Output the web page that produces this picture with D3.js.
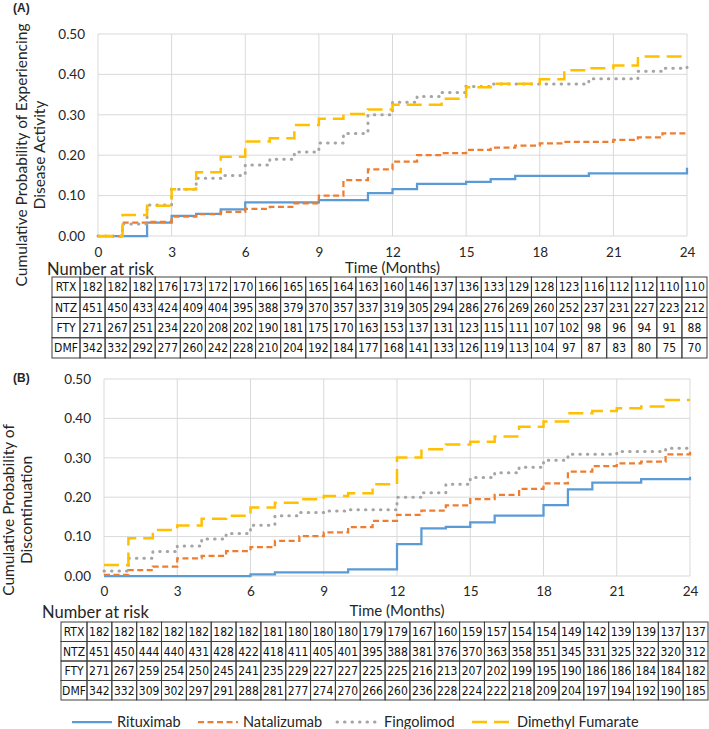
<!DOCTYPE html>
<html>
<head>
<meta charset="utf-8">
<script src="https://cdn.jsdelivr.net/npm/d3@7"></script>
<style>
  body { margin: 0; background: #fff; }
  text { font-family: Lato, "Open Sans", sans-serif; fill: #262626; }
  .tbl text { font-family: "Liberation Sans Narrow", "DejaVu Sans Condensed", sans-serif; font-size: 12px; fill: #111; }
</style>
</head>
<body>
<svg id="chart" width="709" height="729"></svg>
<script>
// months on the x axis, one at-risk column each
const months = [0, 1, 2, 3, 4, 5, 6, 7, 8, 9, 10, 11, 12, 13, 14, 15, 16, 17, 18, 19, 20, 21, 22, 23, 24];
const xTicks = [0, 3, 6, 9, 12, 15, 18, 21, 24];
const yTicks = [0, 0.1, 0.2, 0.3, 0.4, 0.5];
const drugs = ["Rituximab", "Natalizumab", "Fingolimod", "Dimethyl Fumarate"];
const codes = ["RTX", "NTZ", "FTY", "DMF"];

// (A) cumulative probability of disease activity, value from month m onward
const activityRTX = [0, 0, 0.033, 0.050, 0.055, 0.066, 0.083, 0.083, 0.083, 0.089, 0.089, 0.106, 0.116, 0.129, 0.129, 0.134, 0.141, 0.149, 0.149, 0.149, 0.155, 0.155, 0.155, 0.155, 0.169];
const activityNTZ = [0, 0.033, 0.035, 0.048, 0.054, 0.060, 0.067, 0.072, 0.081, 0.100, 0.138, 0.165, 0.184, 0.200, 0.205, 0.213, 0.219, 0.224, 0.229, 0.233, 0.233, 0.238, 0.244, 0.254, 0.256];
const activityFTY = [0, 0.030, 0.077, 0.116, 0.143, 0.150, 0.176, 0.190, 0.208, 0.230, 0.254, 0.300, 0.331, 0.345, 0.355, 0.370, 0.376, 0.376, 0.376, 0.376, 0.389, 0.389, 0.408, 0.415, 0.418];
const activityDMF = [0, 0.052, 0.075, 0.116, 0.158, 0.196, 0.234, 0.242, 0.275, 0.290, 0.302, 0.313, 0.325, 0.325, 0.340, 0.368, 0.377, 0.377, 0.388, 0.410, 0.415, 0.422, 0.444, 0.444, 0.444];

// (B) cumulative probability of discontinuation
const discontRTX = [0, 0, 0, 0, 0, 0, 0.004, 0.009, 0.009, 0.009, 0.017, 0.017, 0.081, 0.121, 0.125, 0.136, 0.153, 0.153, 0.180, 0.220, 0.237, 0.237, 0.246, 0.246, 0.252];
const discontNTZ = [0.003, 0.015, 0.024, 0.045, 0.051, 0.063, 0.073, 0.089, 0.101, 0.111, 0.124, 0.140, 0.155, 0.166, 0.179, 0.195, 0.206, 0.221, 0.235, 0.265, 0.279, 0.286, 0.290, 0.309, 0.318];
const discontFTY = [0.013, 0.045, 0.062, 0.076, 0.094, 0.108, 0.129, 0.153, 0.161, 0.165, 0.168, 0.168, 0.200, 0.211, 0.233, 0.250, 0.262, 0.276, 0.294, 0.309, 0.309, 0.316, 0.316, 0.324, 0.330];
const discontDMF = [0.028, 0.096, 0.117, 0.128, 0.145, 0.153, 0.174, 0.186, 0.195, 0.203, 0.210, 0.233, 0.301, 0.322, 0.334, 0.341, 0.354, 0.379, 0.392, 0.413, 0.419, 0.426, 0.430, 0.447, 0.447];

// number at risk tables
const riskA_RTX = [182, 182, 182, 176, 173, 172, 170, 166, 165, 165, 164, 163, 160, 146, 137, 136, 133, 129, 128, 123, 116, 112, 112, 110, 110];
const riskA_NTZ = [451, 450, 433, 424, 409, 404, 395, 388, 379, 370, 357, 337, 319, 305, 294, 286, 276, 269, 260, 252, 237, 231, 227, 223, 212];
const riskA_FTY = [271, 267, 251, 234, 220, 208, 202, 190, 181, 175, 170, 163, 153, 137, 131, 123, 115, 111, 107, 102, 98, 96, 94, 91, 88];
const riskA_DMF = [342, 332, 292, 277, 260, 242, 228, 210, 204, 192, 184, 177, 168, 141, 133, 126, 119, 113, 104, 97, 87, 83, 80, 75, 70];
const riskB_RTX = [182, 182, 182, 182, 182, 182, 182, 181, 180, 180, 180, 179, 179, 167, 160, 159, 157, 154, 154, 149, 142, 139, 139, 137, 137];
const riskB_NTZ = [451, 450, 444, 440, 431, 428, 422, 418, 411, 405, 401, 395, 388, 381, 376, 370, 363, 358, 351, 345, 331, 325, 322, 320, 312];
const riskB_FTY = [271, 267, 259, 254, 250, 245, 241, 235, 229, 227, 227, 225, 225, 216, 213, 207, 202, 199, 195, 190, 186, 186, 184, 184, 182];
const riskB_DMF = [342, 332, 309, 302, 297, 291, 288, 281, 277, 274, 270, 266, 260, 236, 228, 224, 222, 218, 209, 204, 197, 194, 192, 190, 185];

// line styles per drug
const colors = ["#5b9bd5", "#ed7d31", "#a5a5a5", "#ffc000"];
const dashes = [null, "6,3.5", "0.5,7", "15,7"];
const widths = [2.25, 2.25, 3, 2.5];

const svg = d3.select("#chart");

function drawPanel(p) {
  const x = d3.scaleLinear().domain([0, 24]).range([p.left, p.right]);
  const y = d3.scaleLinear().domain([0, 0.5]).range([p.bottom, p.top]);
  const g = svg.append("g");

  // grid
  g.append("g").selectAll("line").data(yTicks).join("line")
    .attr("x1", p.left).attr("x2", p.right)
    .attr("y1", d => y(d)).attr("y2", d => y(d))
    .attr("stroke", "#d9d9d9");
  g.append("g").selectAll("line").data(xTicks).join("line")
    .attr("x1", d => x(d)).attr("x2", d => x(d))
    .attr("y1", p.top).attr("y2", p.bottom)
    .attr("stroke", "#d9d9d9");

  // axes
  g.append("g")
    .attr("transform", "translate(" + p.left + ",0)")
    .call(d3.axisLeft(y).tickValues(yTicks).tickFormat(d3.format(".2f")).tickSize(0).tickPadding(13))
    .call(a => a.select(".domain").remove())
    .selectAll("text").style("font-size", "13.5px").attr("fill", "#262626");
  g.append("g")
    .attr("transform", "translate(0," + p.bottom + ")")
    .call(d3.axisBottom(x).tickValues(xTicks).tickSize(0).tickPadding(p.xPad))
    .call(a => a.select(".domain").remove())
    .selectAll("text").style("font-size", "13.5px").attr("fill", "#262626");

  // step curves
  const line = d3.line()
    .x((d, i) => x(months[i]))
    .y(d => y(d))
    .curve(d3.curveStepAfter);
  g.append("g").selectAll("path").data(p.series).join("path")
    .attr("d", line)
    .attr("fill", "none")
    .attr("stroke", (d, i) => colors[i])
    .attr("stroke-width", (d, i) => widths[i])
    .attr("stroke-dasharray", (d, i) => dashes[i])
    .attr("stroke-linecap", (d, i) => i === 2 ? "round" : "butt");

  // y title, two lines
  const yt = g.append("text")
    .attr("transform", "translate(" + p.yTitleX + "," + p.yTitleY + ") rotate(-90)")
    .attr("text-anchor", "middle")
    .style("font-size", "15.5px");
  p.yTitle.forEach((t, i) => yt.append("tspan").attr("x", 0).attr("y", i * 18).text(t));

  g.append("text")
    .attr("x", x(12)).attr("y", p.riskY).attr("dy", "0.35em")
    .attr("text-anchor", "middle").style("font-size", "15px")
    .text("Time (Months)");
  g.append("text")
    .attr("x", p.riskX).attr("y", p.riskY + 1).attr("dy", "0.35em")
    .style("font-size", "16.5px")
    .text("Number at risk");

  g.append("text")
    .attr("x", 13).attr("y", p.tagY).attr("dy", "0.35em")
    .style("font-family", "'Liberation Sans', Arial, sans-serif")
    .style("font-weight", "bold").style("font-size", "12px")
    .text(p.tag);

  // number at risk table
  const col = d3.scaleBand().domain(months).range([p.tblLabelRight, p.tblRight]);
  const row = d3.scaleBand().domain(codes).range([p.tblTop, p.tblBottom]);
  const tbl = g.append("g").attr("class", "tbl");
  const rows = tbl.selectAll("g").data(p.risk).join("g")
    .attr("transform", (d, i) => "translate(0," + row(codes[i]) + ")");
  rows.append("rect")
    .attr("x", p.tblLeft).attr("width", p.tblLabelRight - p.tblLeft)
    .attr("height", row.bandwidth())
    .attr("fill", "none").attr("stroke", "#404040");
  rows.append("text")
    .attr("x", (p.tblLeft + p.tblLabelRight) / 2).attr("y", row.bandwidth() / 2).attr("dy", "0.36em")
    .attr("text-anchor", "middle")
    .text((d, i) => codes[i]);
  rows.selectAll("rect.c").data(d => d).join("rect").attr("class", "c")
    .attr("x", (d, i) => col(months[i])).attr("width", col.bandwidth())
    .attr("height", row.bandwidth())
    .attr("fill", "none").attr("stroke", "#404040");
  rows.selectAll("text.c").data(d => d).join("text").attr("class", "c")
    .attr("x", (d, i) => col(months[i]) + col.bandwidth() / 2)
    .attr("y", row.bandwidth() / 2).attr("dy", "0.36em")
    .attr("text-anchor", "middle")
    .text(d => d);
}

drawPanel({
  tag: "(A)", tagY: 8,
  left: 98, right: 687, top: 34, bottom: 236, xPad: 11,
  series: [activityRTX, activityNTZ, activityFTY, activityDMF],
  yTitle: ["Cumulative Probability of Experiencing", "Disease Activity"],
  yTitleX: 27, yTitleY: 155,
  riskX: 47, riskY: 268,
  risk: [riskA_RTX, riskA_NTZ, riskA_FTY, riskA_DMF],
  tblLeft: 52, tblLabelRight: 80, tblRight: 707, tblTop: 277, tblBottom: 358
});

drawPanel({
  tag: "(B)", tagY: 378,
  left: 104, right: 690, top: 379, bottom: 576, xPad: 10,
  series: [discontRTX, discontNTZ, discontFTY, discontDMF],
  yTitle: ["Cumulative Probability of", "Discontinuation"],
  yTitleX: 14, yTitleY: 510,
  riskX: 42, riskY: 611,
  risk: [riskB_RTX, riskB_NTZ, riskB_FTY, riskB_DMF],
  tblLeft: 61, tblLabelRight: 87, tblRight: 708, tblTop: 622, tblBottom: 700
});

// legend
const legendX = [72, 198, 337, 472];
const legend = svg.append("g").selectAll("g").data(drugs).join("g")
  .attr("transform", (d, i) => "translate(" + legendX[i] + ",722)");
legend.append("line")
  .attr("x1", 0).attr("x2", 40)
  .attr("stroke", (d, i) => colors[i])
  .attr("stroke-width", (d, i) => widths[i])
  .attr("stroke-dasharray", (d, i) => dashes[i])
  .attr("stroke-linecap", (d, i) => i === 2 ? "round" : "butt");
legend.append("text")
  .attr("x", (d, i) => i === 2 ? 47 : 45).attr("dy", "0.35em")
  .style("font-size", "14.5px")
  .text(d => d);
</script>
</body>
</html>
